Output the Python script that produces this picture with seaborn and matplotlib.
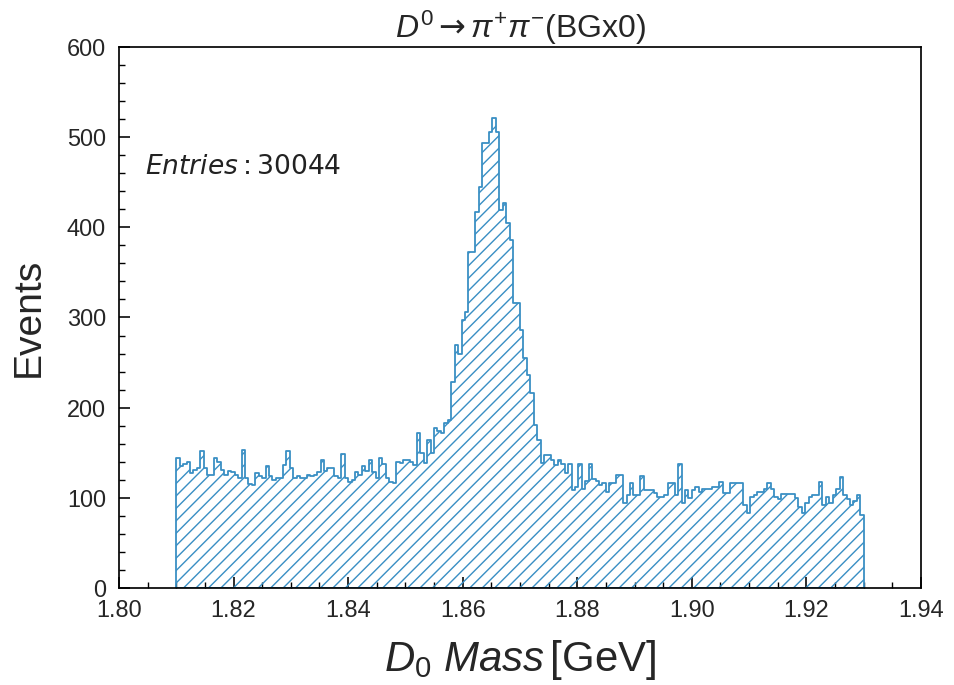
import numpy as np
import pandas as pd
import matplotlib
matplotlib.use("Agg")
import matplotlib.pyplot as plt
import seaborn as sns
from matplotlib.ticker import MultipleLocator

# ---- data -------------------------------------------------------------
bin_lo = 1.81
bin_hi = 1.93
n_bins = 200
counts = [
    144, 135, 138, 140, 127, 131, 133, 152, 133, 125,
    125, 144, 140, 131, 125, 130, 129, 125, 122, 153,
    122, 115, 114, 127, 124, 122, 135, 124, 120, 122,
    122, 136, 152, 133, 122, 124, 122, 122, 125, 124,
    125, 129, 142, 130, 133, 133, 124, 122, 149, 122,
    118, 120, 129, 125, 135, 130, 142, 129, 122, 144,
    137, 122, 118, 116, 140, 139, 142, 142, 140, 136,
    172, 150, 139, 164, 150, 177, 174, 172, 183, 186,
    228, 270, 260, 297, 306, 373, 373, 417, 445, 493,
    494, 506, 521, 506, 419, 427, 405, 386, 316, 316,
    286, 255, 236, 216, 181, 164, 139, 147, 147, 142,
    136, 142, 138, 128, 138, 109, 112, 138, 110, 119,
    138, 121, 119, 114, 117, 107, 117, 117, 125, 125,
    94, 103, 116, 103, 103, 124, 109, 109, 109, 105,
    101, 101, 103, 117, 117, 103, 138, 94, 109, 100,
    109, 112, 107, 110, 110, 110, 112, 112, 118, 105,
    105, 116, 116, 116, 116, 92, 83, 101, 103, 107,
    107, 110, 116, 110, 101, 99, 104, 104, 104, 104,
    100, 90, 83, 94, 101, 103, 103, 118, 92, 101,
    94, 103, 110, 123, 103, 99, 92, 96, 103, 81,
]
entries = 30044
title = r"$D^0\mathsf{\rightarrow}\pi^{+}\pi^{-}$(BGx0)"
xlabel = r"$D_0\ Mass\,$[GeV]"
ylabel = "Events"
x_ticks = [1.80, 1.82, 1.84, 1.86, 1.88, 1.90, 1.92, 1.94]
y_ticks = [0, 100, 200, 300, 400, 500, 600]

edges = np.linspace(bin_lo, bin_hi, n_bins + 1)
centers = 0.5 * (edges[:-1] + edges[1:])
df = pd.DataFrame({"mass": centers, "w": np.asarray(counts, dtype=float)})

# ---- style ------------------------------------------------------------
DPI = 112


def pt(px):
    return px * 72.0 / DPI


sns.set_theme(style="white")
plt.rcParams["font.family"] = ["Liberation Sans", "DejaVu Sans"]
plt.rcParams["mathtext.fontset"] = "custom"
plt.rcParams["mathtext.rm"] = "Liberation Sans"
plt.rcParams["mathtext.it"] = "Liberation Sans:italic"
plt.rcParams["mathtext.bf"] = "Liberation Sans:bold"
plt.rcParams["mathtext.sf"] = "DejaVu Sans"
plt.rcParams["mathtext.fallback"] = "stixsans"
plt.rcParams["hatch.linewidth"] = pt(1.4)
color = "#3a8fc4"
plt.rcParams["hatch.color"] = color

fig = plt.figure(figsize=(954 / DPI, 685 / DPI), dpi=DPI)
ax = fig.add_axes([0.1247, 0.1416, 0.8407, 0.7898])

sns.histplot(data=df, x="mass", weights="w", bins=edges.tolist(),
             element="step", fill=True, color=color, linewidth=pt(1.8), ax=ax)
for coll in ax.collections:
    coll.set_facecolor("none")
    coll.set_edgecolor(color)
    coll.set_hatch("///")
    coll.set_linewidth(pt(1.8))

ax.set_xlim(1.80, 1.94)
ax.set_ylim(0, 600)
ax.set_xticks(x_ticks)
ax.set_xticklabels([f"{t:.2f}" for t in x_ticks])
ax.set_yticks(y_ticks)
ax.xaxis.set_minor_locator(MultipleLocator(0.005))
ax.yaxis.set_minor_locator(MultipleLocator(20))
ax.tick_params(axis="both", which="major", direction="in", length=pt(11),
               width=pt(1.6), labelsize=pt(23.5), color="black")
ax.tick_params(axis="x", which="major", pad=pt(11))
ax.tick_params(axis="y", which="major", pad=pt(13))
ax.tick_params(axis="both", which="minor", direction="in", length=pt(6),
               width=pt(1.4), color="black")
ax.tick_params(bottom=True, left=True, top=False, right=False, which="both")
for s in ax.spines.values():
    s.set_color("black")
    s.set_linewidth(pt(1.7))

ax.set_xlabel(xlabel, fontsize=pt(42), labelpad=pt(16))
ax.set_ylabel(ylabel, fontsize=pt(39), labelpad=pt(20))
ax.set_title(title, fontsize=pt(32), pad=pt(8))
ax.text(0.032, 0.778, rf"$Entries: {entries}$", transform=ax.transAxes,
        fontsize=pt(26.5), math_fontfamily="dejavusans", ha="left",
        va="center", color="#222222")

fig.savefig("out.png", dpi=DPI)
